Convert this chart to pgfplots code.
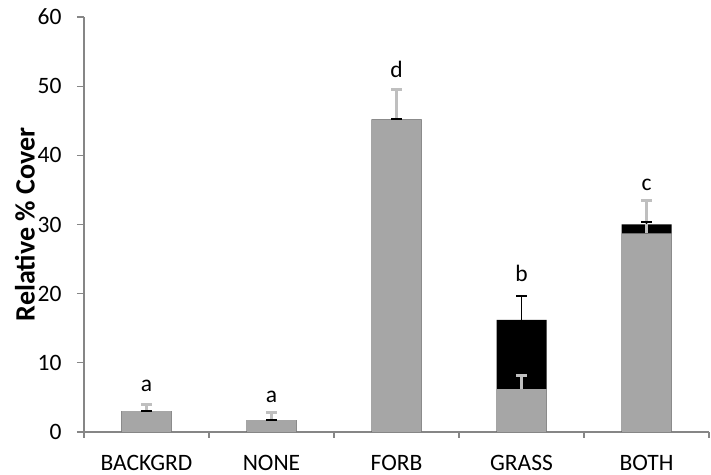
\documentclass[border=0pt]{standalone}
\usepackage{fontspec}
\setmainfont{Carlito}
\usepackage{pgfplots}
\pgfplotsset{compat=1.18}
\definecolor{bargray}{HTML}{A6A6A6}
\definecolor{errgray}{HTML}{BFBFBF}
\definecolor{axgray}{HTML}{868686}
\newcommand\cf{\fontsize{23.5}{27}\selectfont}
\begin{document}
\begin{tikzpicture}
\begin{axis}[name=ax, width=625pt, height=415pt, scale only axis,
  xmin=-0.5, xmax=4.5, ymin=0, ymax=60,
  axis x line*=bottom, axis y line*=left,
  axis line style={axgray, line width=1.2pt, -},
  ytick={0,10,...,60},
  xtick={0,...,4}, xticklabels={BACKGRD,NONE,FORB,GRASS,BOTH},
  minor xtick={-0.5,0.5,1.5,2.5,3.5,4.5},
  tick align=outside, major tick length=7pt, minor tick length=6pt,
  major x tick style={draw=none},
  tick style={axgray, line width=1.2pt},
  minor x tick style={axgray, line width=1.2pt},
  every tick label/.append style={font=\cf, text=black},
  yticklabel style={xshift=-12pt},
  xticklabel style={yshift=-16pt, inner sep=0pt},
  /pgf/number format/assume math mode=true,
  ylabel={\textbf{Relative \% Cover}},
  ylabel style={font=\fontsize{28}{32}\selectfont, xshift=0pt, yshift=-4pt},
  clip=false,
]
\addplot[ybar, bar width=0.4, bar shift=0pt, fill=black, draw=none, forget plot]
  coordinates {(0,3.0) (1,1.7) (2,45.2) (3,16.2) (4,30.0)};
\addplot[ybar, bar width=0.4, bar shift=0pt, fill=bargray, draw=none, forget plot]
  coordinates {(0,3.0) (1,1.7) (2,45.2) (3,6.2) (4,28.7)};
\addplot[draw=none, mark=none, forget plot,
  error bars/.cd, y dir=plus, y explicit,
  error bar style={draw=errgray, line width=3pt},
  error mark options={draw=errgray, line width=3pt, mark size=5.5pt, rotate=90}]
  coordinates {(0,3.0) +- (0,1.0) (1,1.7) +- (0,1.1) (2,45.2) +- (0,4.3) (3,6.2) +- (0,2.0) (4,28.7) +- (0,4.7)};
\addplot[draw=none, mark=none, forget plot,
  error bars/.cd, y dir=plus, y explicit,
  error bar style={draw=black, line width=1.6pt},
  error mark options={draw=black, line width=1.8pt, mark size=5.5pt, rotate=90}]
  coordinates {(0,3.0) +- (0,0) (1,1.7) +- (0,0) (2,45.2) +- (0,0) (3,16.2) +- (0,3.5) (4,30.0) +- (0,0.4)};
\node[font=\cf, anchor=base] at (axis cs:0,5.8) {a};
\node[font=\cf, anchor=base] at (axis cs:1,4.2) {a};
\node[font=\cf, anchor=base] at (axis cs:2,51.2) {d};
\node[font=\cf, anchor=base] at (axis cs:3,21.7) {b};
\node[font=\cf, anchor=base] at (axis cs:4,34.9) {c};
\end{axis}
\pgfresetboundingbox
\path[use as bounding box] ([xshift=-84pt,yshift=-43pt]ax.south west) rectangle ([xshift=2pt,yshift=17pt]ax.north east);
\end{tikzpicture}
\end{document}
